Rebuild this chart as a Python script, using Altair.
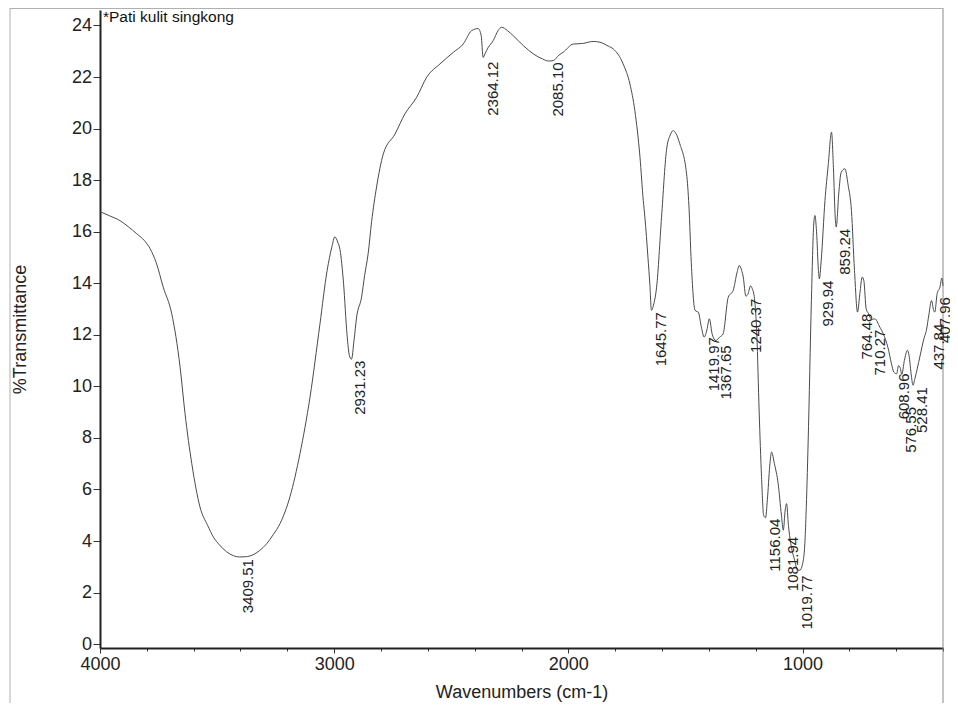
import altair as alt
import pandas as pd

# ---- spectrum (wavenumber cm-1, %T) ----
wavenumber = [4000, 3960, 3915, 3880, 3843, 3810, 3786, 3760, 3730, 3694, 3658, 3637, 3608, 3573,
              3540, 3516, 3490, 3459, 3430, 3405, 3380, 3360, 3320, 3288, 3260, 3231, 3189, 3146,
              3103, 3061, 3030, 3010, 2997, 2985, 2975, 2960, 2945, 2935, 2926, 2915, 2904, 2883,
              2870, 2855, 2840, 2819, 2790, 2740, 2698, 2648, 2605, 2548, 2491, 2449, 2413, 2385,
              2372, 2364, 2356, 2342, 2321, 2300, 2285, 2260, 2235, 2190, 2150, 2110, 2085, 2064,
              2040, 2022, 1979, 1940, 1894, 1865, 1830, 1808, 1766, 1737, 1716, 1694, 1680, 1673,
              1660, 1652, 1645, 1635, 1623, 1602, 1581, 1565, 1552, 1540, 1524, 1495, 1485, 1475,
              1459, 1450, 1445, 1432, 1420, 1408, 1398, 1385, 1370, 1355, 1339, 1317, 1296, 1280,
              1270, 1260, 1253, 1242, 1232, 1222, 1215, 1205, 1195, 1185, 1175, 1166, 1158, 1150,
              1140, 1132, 1120, 1104, 1090, 1082, 1074, 1068, 1060, 1050, 1035, 1020, 1011, 1000,
              990, 985, 976, 962, 952, 947, 940, 932, 928, 920, 904, 890, 876, 868, 860, 856,
              845, 835, 819, 805, 791, 778, 765, 755, 745, 738, 728, 718, 710, 700, 691, 670,
              655, 635, 620, 610, 598, 590, 582, 576, 565, 552, 545, 535, 528, 520, 499, 480,
              471, 460, 449, 440, 435, 425, 413, 405, 400]
transmittance = [16.78, 16.62, 16.43, 16.2, 15.92, 15.65, 15.34, 14.8, 13.85, 12.83, 10.75, 8.95, 7.0, 5.32,
                 4.6, 4.16, 3.85, 3.58, 3.43, 3.38, 3.39, 3.42, 3.62, 3.9, 4.25, 4.68, 5.71, 7.39,
                 9.59, 12.4, 14.5, 15.4, 15.8, 15.6, 15.3, 14.0, 12.0, 11.2, 11.05, 11.8, 12.69, 13.46,
                 14.3, 15.14, 16.4, 17.73, 19.02, 19.79, 20.57, 21.21, 21.99, 22.51, 22.96, 23.28, 23.8, 23.88,
                 23.6, 22.76, 22.9, 23.15, 23.41, 23.8, 23.93, 23.8, 23.6, 23.2, 22.9, 22.7, 22.62, 22.64,
                 22.85, 22.96, 23.28, 23.3, 23.38, 23.35, 23.2, 23.09, 22.51, 21.73, 20.7, 18.89, 17.21, 16.56,
                 15.0, 13.98, 12.95, 13.2, 13.85, 16.56, 19.15, 19.75, 19.92, 19.8, 19.41, 18.24, 17.0, 14.8,
                 12.95, 12.9, 12.88, 12.3, 11.91, 12.2, 12.62, 12.0, 11.78, 11.9, 12.04, 13.46, 13.72, 14.4,
                 14.69, 14.5, 14.24, 13.5, 13.6, 13.9, 13.8, 13.4, 12.0, 9.0, 6.5, 5.0, 4.9, 5.6,
                 6.9, 7.45, 7.0, 6.23, 5.0, 4.42, 5.2, 5.45, 4.6, 3.9, 3.3, 2.87, 2.87, 3.1,
                 3.9, 5.0, 7.8, 13.33, 16.3, 16.63, 16.0, 14.5, 14.17, 14.9, 17.21, 18.6, 19.86, 18.5, 16.5, 16.18,
                 17.5, 18.3, 18.44, 17.8, 16.82, 14.5, 12.88, 13.6, 14.24, 14.1, 13.0, 12.82, 12.65, 12.6, 12.62, 12.3,
                 12.04, 11.5, 10.88, 10.55, 10.49, 10.8, 10.7, 10.46, 11.0, 11.4, 11.2, 10.4, 10.04, 10.3, 11.14, 11.9,
                 12.17, 12.8, 13.33, 12.95, 12.88, 13.6, 13.85, 14.2, 13.9]

# ---- peak labels: text, wavenumber, %T where the label text starts ----
peak_labels = ["3409.51", "2931.23", "2364.12", "2085.10", "1645.77", "1419.97", "1367.65",
               "1240.37", "1156.04", "1081.94", "1019.77", "929.94", "859.24", "764.48",
               "710.27", "608.96", "576.55", "528.41"]
peak_wn = [3409.51, 2931.23, 2364.12, 2085.10, 1645.77, 1419.97, 1367.65,
           1240.37, 1156.04, 1081.94, 1019.77, 929.94, 859.24, 764.48,
           710.27, 608.96, 576.55, 528.41]
peak_label_t = [3.3, 11.0, 22.6, 22.57, 12.88, 11.91, 11.59,
                13.4, 4.87, 4.16, 2.67, 14.1, 16.11, 12.82,
                12.2, 10.5, 9.2, 9.97]
# the last two peaks sit on the right edge of the frame
edge_label_a = ["437.84"]
edge_wn_a = [437.84]
edge_label_t_a = [12.43]
edge_label_b = ["407.96"]
edge_wn_b = [407.96]
edge_label_t_b = [13.46]

x_ticks = list(range(400, 4001, 200))
y_ticks = [i * 0.5 for i in range(0, 50)]

FONT = "Liberation Sans"

curve = pd.DataFrame({"wn": wavenumber, "t": transmittance})
peaks = pd.DataFrame({"wn": peak_wn, "t": peak_label_t, "label": peak_labels})
edge_a = pd.DataFrame({"wn": edge_wn_a, "t": edge_label_t_a, "label": edge_label_a})
edge_b = pd.DataFrame({"wn": edge_wn_b, "t": edge_label_t_b, "label": edge_label_b})

x_scale = alt.Scale(domain=[4000, 400], nice=False, zero=False)
y_scale = alt.Scale(domain=[-0.15, 24.6], nice=False, zero=False)

x_axis = alt.Axis(
    values=x_ticks, format="d",
    labelExpr="datum.value % 1000 === 0 ? datum.label : ''",
    tickSize={"condition": {"test": "datum.value % 1000 === 0", "value": 5}, "value": 3},
    tickColor="#333", tickWidth=1,
    domainColor="#222", domainWidth=2,
    labelFont=FONT, labelFontSize=18, labelColor="#222", labelPadding=2,
    labelOverlap=False, labelFlush=False,
    titleFont=FONT, titleFontSize=18, titleFontWeight="normal", titleColor="#222",
    titlePadding=10, grid=False,
)
y_axis = alt.Axis(
    values=y_ticks,
    labelExpr="datum.value % 2 === 0 ? datum.label : ''",
    tickSize={"condition": {"test": "datum.value % 2 === 0", "value": 7}, "value": 5},
    tickColor="#333", tickWidth=1,
    domainColor="#222", domainWidth=2,
    labelFont=FONT, labelFontSize=18, labelColor="#222", labelPadding=1.5,
    labelOverlap=False, labelFlush=False,
    titleFont=FONT, titleFontSize=18, titleFontWeight="normal", titleColor="#222",
    titlePadding=42, grid=False,
)

line = alt.Chart(curve).mark_line(color="#4a4a4a", strokeWidth=1, interpolate="monotone").encode(
    x=alt.X("wn:Q", scale=x_scale, axis=x_axis, title="Wavenumbers (cm-1)"),
    y=alt.Y("t:Q", scale=y_scale, axis=y_axis, title="%Transmittance"),
    order=alt.Order("wn:Q", sort="descending"),
)


def peak_text(df, shift):
    return alt.Chart(df).mark_text(
        angle=270, align="right", baseline="middle", dy=shift,
        font=FONT, fontSize=15, color="#222",
    ).encode(
        x=alt.X("wn:Q", scale=x_scale),
        y=alt.Y("t:Q", scale=y_scale),
        text="label:N",
    )


labels = peak_text(peaks, 9.5)
labels_a = peak_text(edge_a, 5)
labels_b = peak_text(edge_b, 3.5)

title_df = pd.DataFrame({"txt": ["*Pati kulit singkong"]})
sample_title = alt.Chart(title_df).mark_text(
    align="left", baseline="middle", font=FONT, fontSize=15.5, color="#111",
).encode(x=alt.value(3), y=alt.value(7), text="txt:N")

frame_df = pd.DataFrame({"k": [0]})
right_border = alt.Chart(frame_df).mark_rule(color="#8a8a8a", strokeWidth=1).encode(
    x=alt.value(843), y=alt.value(-10), y2=alt.value(700))
left_border = alt.Chart(frame_df).mark_rule(color="#b0b0b0", strokeWidth=1).encode(
    x=alt.value(-90), y=alt.value(-10), y2=alt.value(700))
top_border = alt.Chart(frame_df).mark_rule(color="#b0b0b0", strokeWidth=1).encode(
    x=alt.value(-90), x2=alt.value(843), y=alt.value(-1.5))

chart = alt.layer(left_border, right_border, top_border, line, labels, labels_a, labels_b,
                  sample_title).properties(
    width=843, height=638,
    autosize=alt.AutoSizeParams(type="none"),
    padding={"left": 92, "top": 2, "right": 7, "bottom": 55},
    background="white",
).configure_view(stroke=None)

chart.save("out.html", embed_options={"renderer": "svg", "actions": False})
